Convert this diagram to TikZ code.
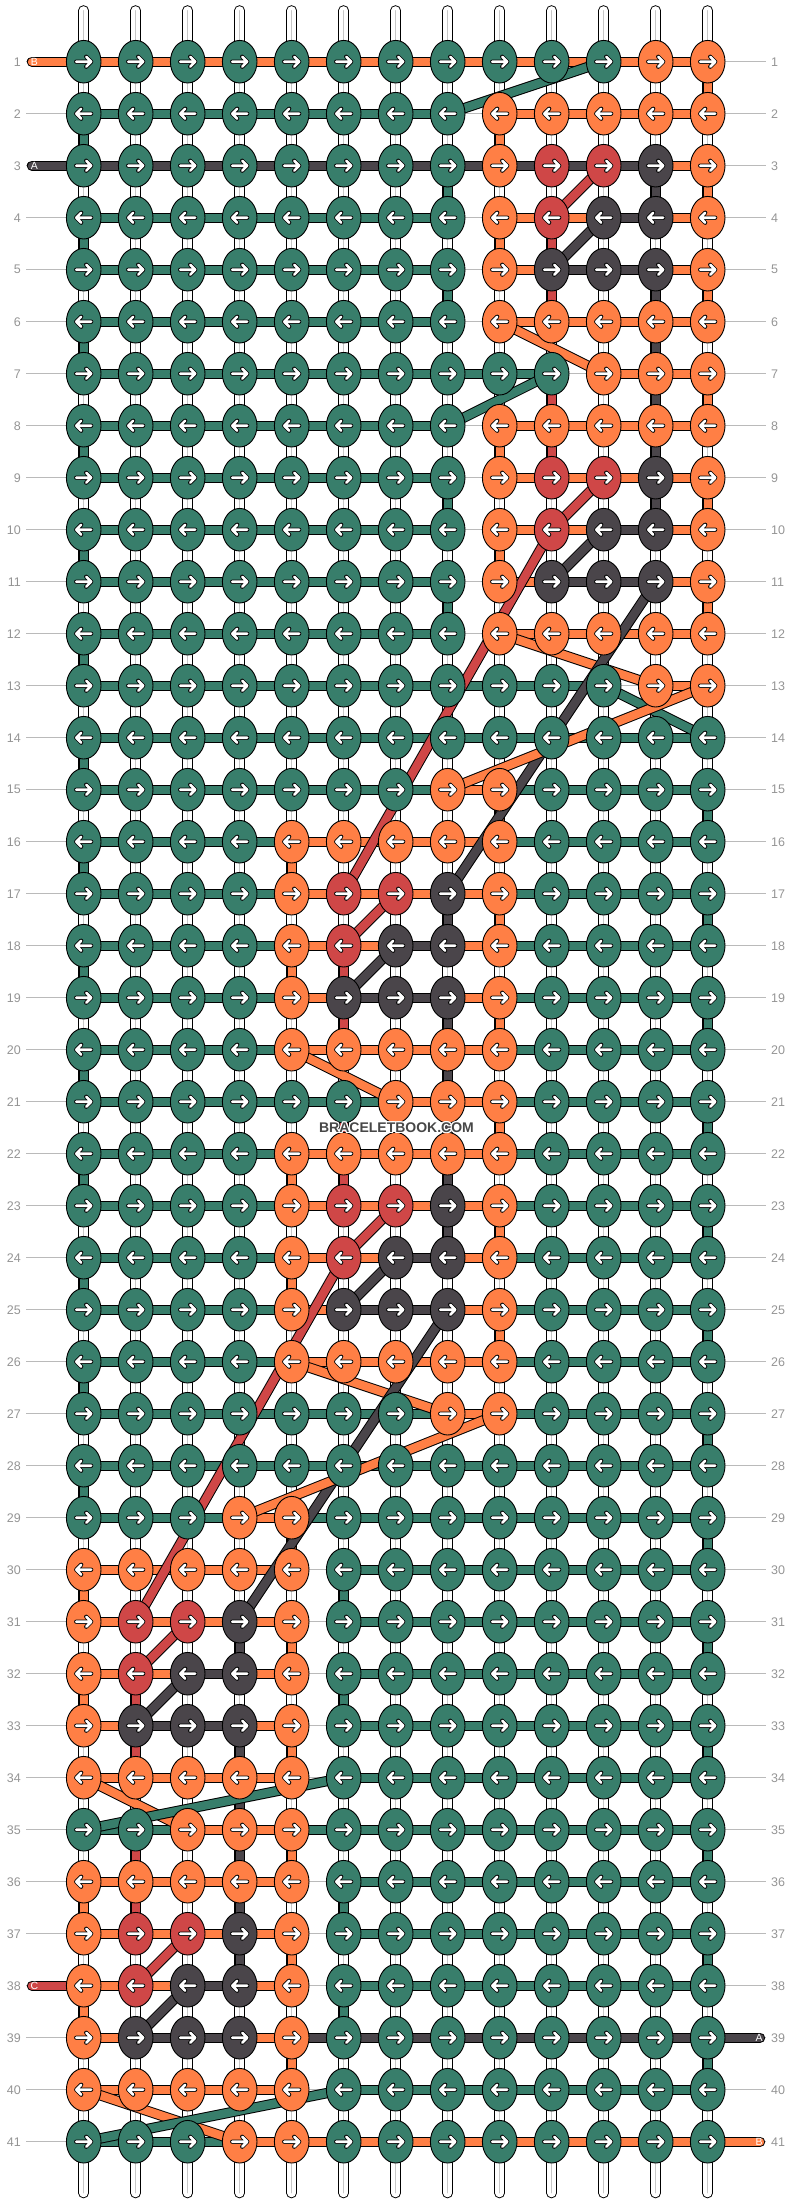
\documentclass[tikz,border=0pt]{standalone}
\usepackage{fontspec}
\setmainfont{Liberation Sans}
\usetikzlibrary{shapes.geometric}
\definecolor{cG}{HTML}{387E6B}
\definecolor{cO}{HTML}{FF7F45}
\definecolor{cR}{HTML}{CF4747}
\definecolor{cD}{HTML}{4A454A}
\pgfdeclarelayer{guide}
\pgfdeclarelayer{warp}
\pgfdeclarelayer{weft}
\pgfsetlayers{guide,warp,weft,main}
\tikzset{
  knot/.style = {ellipse, draw=black, line width=0.9pt, minimum width=34.6pt,
    minimum height=42.6pt, inner sep=0pt},
  arr/.style = {draw=white, line width=2.6pt, line cap=round, line join=round,
    preaction={draw=black, line width=4.2pt, line cap=round, line join=round}},
  knotR/.style = {knot, path picture={\draw[arr, shift={(path picture bounding box.center)}]
    (-7.5,0) -- (7.5,0) (2.5,-5) -- (7.5,0) -- (2.5,5);}},% knot tied left to right
  knotL/.style = {knot, path picture={\draw[arr, shift={(path picture bounding box.center)}]
    (7.5,0) -- (-7.5,0) (-2.5,-5) -- (-7.5,0) -- (-2.5,5);}},% knot tied right to left
  seg/.style = {line width=8.4pt, preaction={draw=black, line width=10.4pt}},
  stub/.style = {line width=8.4pt, line cap=round,
    preaction={draw=black, line width=10.4pt, line cap=round}},
  warp/.style = {draw=white, line width=8.6pt, line cap=round,
    preaction={draw=black, line width=10.6pt, line cap=round},
    postaction={draw=black!22, line width=0.7pt}},
  guide/.style = {draw=black!27, line width=0.9pt},
  num/.style = {text=black!42, font=\fontsize{12.5}{14}\selectfont, inner sep=0pt},
  tag/.style = {text=white, font=\fontsize{10.5}{12}\selectfont, inner sep=0pt},
  site/.style = {font=\bfseries\fontsize{14}{16}\selectfont, inner sep=0pt}
}
% row / knot colours / colours of the string between the knots (N = none)
\def\knotdata{
1/{G,G,G,G,G,G,G,G,G,G,G,O,O}/{O,O,O,O,O,O,O,O,O,O,O,O},
2/{G,G,G,G,G,G,G,G,O,O,O,O,O}/{G,G,G,G,G,G,G,N,O,O,O,O},
3/{G,G,G,G,G,G,G,G,O,R,R,D,O}/{D,D,D,D,D,D,D,D,D,D,D,O},
4/{G,G,G,G,G,G,G,G,O,R,D,D,O}/{G,G,G,G,G,G,G,N,O,O,D,O},
5/{G,G,G,G,G,G,G,G,O,D,D,D,O}/{G,G,G,G,G,G,G,N,O,D,D,O},
6/{G,G,G,G,G,G,G,G,O,O,O,O,O}/{G,G,G,G,G,G,G,N,O,O,O,O},
7/{G,G,G,G,G,G,G,G,G,G,O,O,O}/{G,G,G,G,G,G,G,G,G,N,O,O},
8/{G,G,G,G,G,G,G,G,O,O,O,O,O}/{G,G,G,G,G,G,G,N,O,O,O,O},
9/{G,G,G,G,G,G,G,G,O,R,R,D,O}/{G,G,G,G,G,G,G,N,O,O,O,O},
10/{G,G,G,G,G,G,G,G,O,R,D,D,O}/{G,G,G,G,G,G,G,N,O,O,D,O},
11/{G,G,G,G,G,G,G,G,O,D,D,D,O}/{G,G,G,G,G,G,G,N,O,D,D,O},
12/{G,G,G,G,G,G,G,G,O,O,O,O,O}/{G,G,G,G,G,G,G,N,O,O,O,O},
13/{G,G,G,G,G,G,G,G,G,G,G,O,O}/{G,G,G,G,G,G,G,G,G,G,N,O},
14/{G,G,G,G,G,G,G,G,G,G,G,G,G}/{G,G,G,G,G,G,G,G,G,G,G,G},
15/{G,G,G,G,G,G,G,O,O,G,G,G,G}/{G,G,G,G,G,G,G,O,G,G,G,G},
16/{G,G,G,G,O,O,O,O,O,G,G,G,G}/{G,G,G,G,O,O,O,O,G,G,G,G},
17/{G,G,G,G,O,R,R,D,O,G,G,G,G}/{G,G,G,G,O,O,O,O,G,G,G,G},
18/{G,G,G,G,O,R,D,D,O,G,G,G,G}/{G,G,G,G,O,O,D,O,G,G,G,G},
19/{G,G,G,G,O,D,D,D,O,G,G,G,G}/{G,G,G,G,O,D,D,O,G,G,G,G},
20/{G,G,G,G,O,O,O,O,O,G,G,G,G}/{G,G,G,G,O,O,O,O,G,G,G,G},
21/{G,G,G,G,G,G,O,O,O,G,G,G,G}/{G,G,G,G,G,G,O,O,G,G,G,G},
22/{G,G,G,G,O,O,O,O,O,G,G,G,G}/{G,G,G,G,O,O,O,O,G,G,G,G},
23/{G,G,G,G,O,R,R,D,O,G,G,G,G}/{G,G,G,G,O,O,O,O,G,G,G,G},
24/{G,G,G,G,O,R,D,D,O,G,G,G,G}/{G,G,G,G,O,O,D,O,G,G,G,G},
25/{G,G,G,G,O,D,D,D,O,G,G,G,G}/{G,G,G,G,O,D,D,O,G,G,G,G},
26/{G,G,G,G,O,O,O,O,O,G,G,G,G}/{G,G,G,G,O,O,O,O,G,G,G,G},
27/{G,G,G,G,G,G,G,O,O,G,G,G,G}/{G,G,G,G,G,G,G,O,G,G,G,G},
28/{G,G,G,G,G,G,G,G,G,G,G,G,G}/{G,G,G,G,G,G,G,G,G,G,G,G},
29/{G,G,G,O,O,G,G,G,G,G,G,G,G}/{G,G,G,O,G,G,G,G,G,G,G,G},
30/{O,O,O,O,O,G,G,G,G,G,G,G,G}/{O,O,O,O,N,G,G,G,G,G,G,G},
31/{O,R,R,D,O,G,G,G,G,G,G,G,G}/{O,O,O,O,N,G,G,G,G,G,G,G},
32/{O,R,D,D,O,G,G,G,G,G,G,G,G}/{O,O,D,O,N,G,G,G,G,G,G,G},
33/{O,D,D,D,O,G,G,G,G,G,G,G,G}/{O,D,D,O,N,G,G,G,G,G,G,G},
34/{O,O,O,O,O,G,G,G,G,G,G,G,G}/{O,O,O,O,N,G,G,G,G,G,G,G},
35/{G,G,O,O,O,G,G,G,G,G,G,G,G}/{G,G,O,O,G,G,G,G,G,G,G,G},
36/{O,O,O,O,O,G,G,G,G,G,G,G,G}/{O,O,O,O,N,G,G,G,G,G,G,G},
37/{O,R,R,D,O,G,G,G,G,G,G,G,G}/{O,O,O,O,N,G,G,G,G,G,G,G},
38/{O,R,D,D,O,G,G,G,G,G,G,G,G}/{O,O,D,O,N,G,G,G,G,G,G,G},
39/{O,D,D,D,O,G,G,G,G,G,G,G,G}/{O,D,D,O,D,D,D,D,D,D,D,D},
40/{O,O,O,O,O,G,G,G,G,G,G,G,G}/{O,O,O,O,N,G,G,G,G,G,G,G},
41/{G,G,G,O,O,G,G,G,G,G,G,G,G}/{G,G,G,O,O,O,O,O,O,O,O,O}}

\begin{document}
\begin{tikzpicture}[x=1pt, y=-1pt]
\useasboundingbox (0,0) rectangle (792,2204);

% knots and row numbers
\foreach \ri/\ks/\hs in \knotdata {
  \foreach \kc [count=\ci] in \ks {
    \ifodd\ri\relax
      \node[knotR, fill=c\kc] (k-\ri-\ci) at ({31.7+52*\ci},{9.7+52*\ri}) {};
    \else
      \node[knotL, fill=c\kc] (k-\ri-\ci) at ({31.7+52*\ci},{9.7+52*\ri}) {};
    \fi
  }
  \node[num, anchor=east] (nl-\ri) at (21,{9.7+52*\ri}) {\ri};
  \node[num, anchor=west] (nr-\ri) at (771,{9.7+52*\ri}) {\ri};
}

\begin{pgfonlayer}{guide}
\foreach \ri in {1,...,41}
  \draw[guide] ([xshift=5pt]nl-\ri.east) -- ([xshift=-5pt]nr-\ri.west);
\end{pgfonlayer}

\begin{pgfonlayer}{warp}
\foreach \ci in {1,...,13} {
  \coordinate (wt-\ci) at ({31.7+52*\ci},10.5);
  \coordinate (wb-\ci) at ({31.7+52*\ci},2193);
  \draw[warp] (wt-\ci) -- (wb-\ci);
}
\end{pgfonlayer}

\begin{pgfonlayer}{weft}
% strings along the rows
\foreach \ri/\ks/\hs in \knotdata {
  \foreach \hc [count=\ci] in \hs {
    \if N\hc\else
      \pgfmathtruncatemacro\cn{\ci+1}
      \draw[seg, draw=c\hc] (k-\ri-\ci.center) -- (k-\ri-\cn.center);
    \fi
  }
}
% green string turning to the next row
\foreach \ri/\ci in {2/1,3/8,4/1,5/8,6/1,8/1,9/8,10/1,11/8,12/1,14/1,15/13,16/1,17/13,
    18/1,19/13,20/1,21/13,22/1,23/13,24/1,25/13,26/1,27/13,28/1,29/13,30/6,31/13,
    32/6,33/13,35/13,36/6,37/13,38/6,39/13} {
  \pgfmathtruncatemacro\rn{\ri+1}
  \draw[seg, draw=cG] (k-\ri-\ci.center) -- (k-\rn-\ci.center);
}
% carried strings in the motifs
\foreach \br/\bc in {2/9,16/5,30/1}
  \foreach \dr/\dc/\cl in {-1/4/O,0/0/O,1/3/D,1/4/O,2/0/O,2/1/R,3/1/R,3/3/D,3/4/O,4/3/D} {
    \pgfmathtruncatemacro\ra{\br+\dr}
    \pgfmathtruncatemacro\rb{\br+\dr+1}
    \pgfmathtruncatemacro\cc{\bc+\dc}
    \draw[seg, draw=c\cl] (k-\ra-\cc.center) -- (k-\rb-\cc.center);
  }
\foreach \br/\bc in {8/9,22/5,36/1}
  \foreach \dr/\dc/\cl in {-1/1/R,-1/3/D,-1/4/O,0/0/O,0/1/R,0/3/D,1/3/D,1/4/O,2/0/O,3/4/O} {
    \pgfmathtruncatemacro\ra{\br+\dr}
    \pgfmathtruncatemacro\rb{\br+\dr+1}
    \pgfmathtruncatemacro\cc{\bc+\dc}
    \draw[seg, draw=c\cl] (k-\ra-\cc.center) -- (k-\rb-\cc.center);
  }
% strings jumping between knots
\foreach \a/\b/\cl in {1-11/2-8/G, 3-11/4-10/R, 4-11/5-10/D, 6-9/7-11/O, 7-10/8-8/G,
    9-11/10-10/R, 10-11/11-10/D, 12-9/13-12/O, 13-11/14-13/G, 10-10/17-6/R,
    11-12/17-8/D, 13-13/15-8/O, 17-7/18-6/R, 18-7/19-6/D, 20-5/21-7/O,
    23-7/24-6/R, 24-7/25-6/D, 26-5/27-8/O, 24-6/31-2/R, 25-8/31-4/D, 27-9/29-4/O,
    31-3/32-2/R, 32-3/33-2/D, 34-1/35-3/O, 34-6/35-1/G, 37-3/38-2/R, 38-3/39-2/D,
    40-1/41-4/O, 40-6/41-1/G}
  \draw[seg, draw=c\cl] (k-\a.center) -- (k-\b.center);
% loose ends
\foreach \ri/\cl in {1/O,3/D,38/R} {
  \coordinate (sl-\ri) at (32,{9.7+52*\ri});
  \draw[stub, draw=c\cl] (sl-\ri) -- (k-\ri-1.center);
}
\foreach \ri/\cl in {39/D,41/O} {
  \coordinate (sr-\ri) at (760,{9.7+52*\ri});
  \draw[stub, draw=c\cl] (k-\ri-13.center) -- (sr-\ri);
}
\end{pgfonlayer}

\foreach \ri/\tg in {1/B,3/A,38/C}
  \node[tag] (tl-\ri) at (34.5,{9.7+52*\ri}) {\tg};
\foreach \ri/\tg in {39/A,41/B}
  \node[tag] (tr-\ri) at (759,{9.7+52*\ri}) {\tg};

% site name with a white rim
\foreach \dx/\dy [count=\i] in {-1/-1,0/-1,1/-1,-1/0,1/0,-1/1,0/1,1/1}
  \node[site, text=white] (wm-\i) at (396.5+\dx,1128+\dy) {BRACELETBOOK.COM};
\node[site, text=black!72] (wm) at (396.5,1128) {BRACELETBOOK.COM};
\end{tikzpicture}
\end{document}
